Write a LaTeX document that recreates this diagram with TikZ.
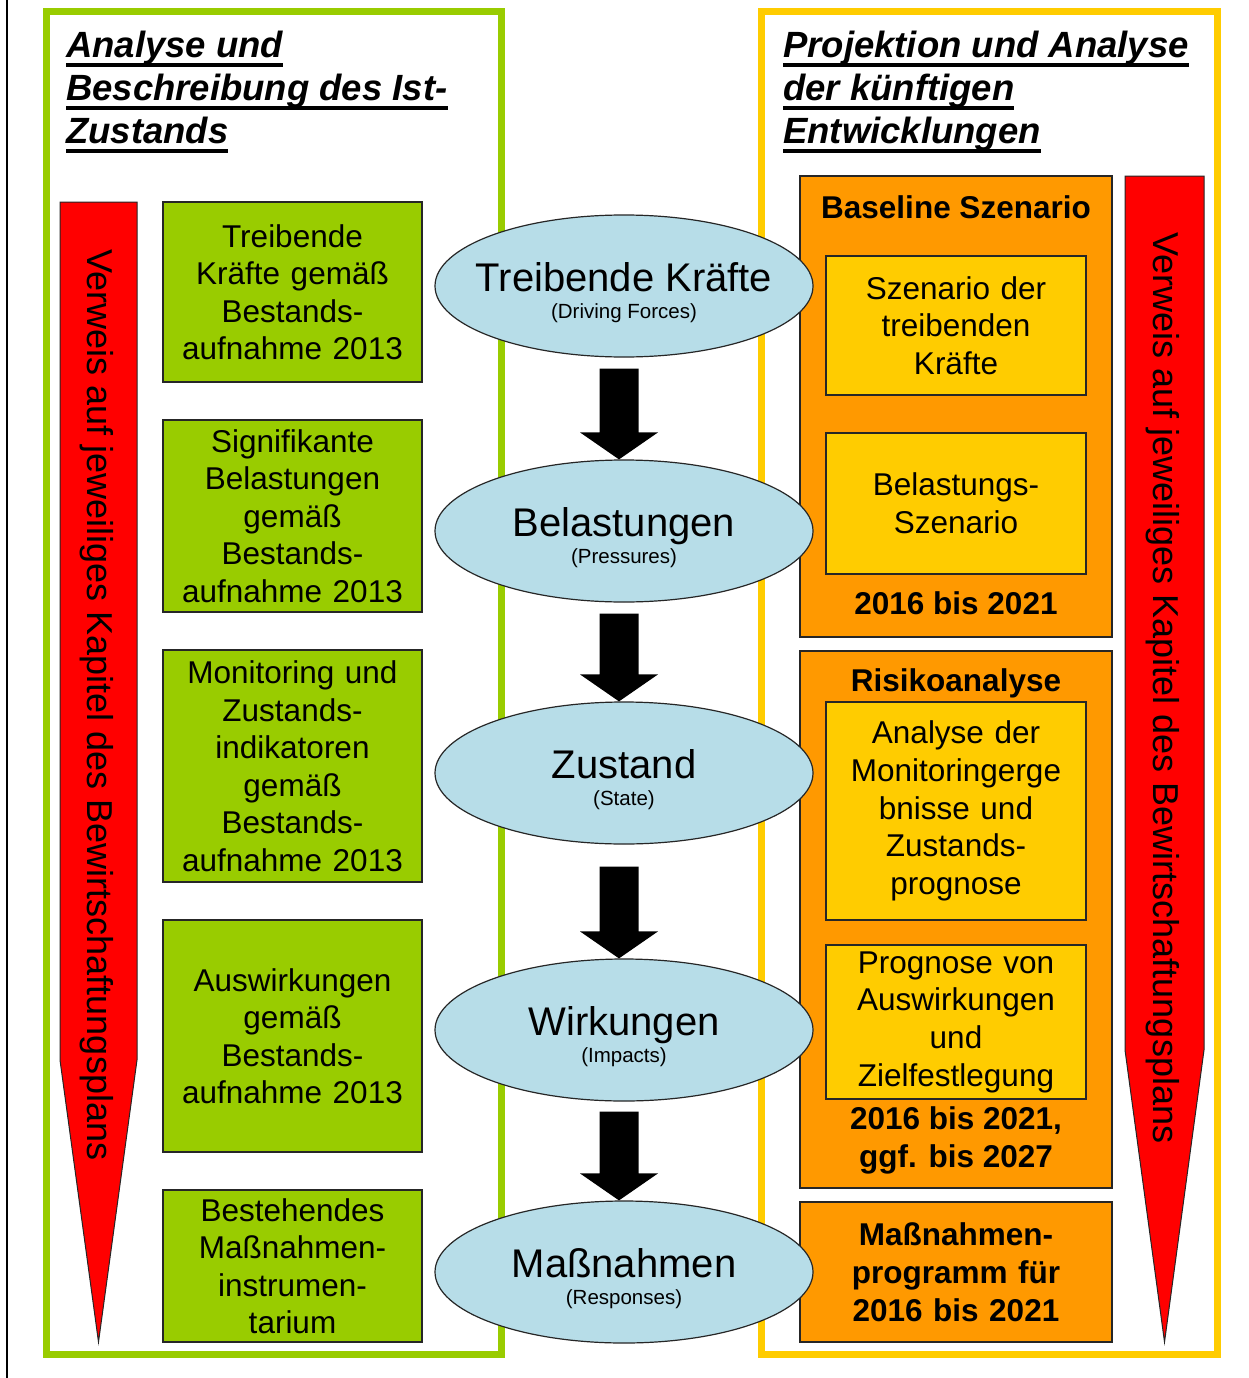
\documentclass[tikz,border=0pt]{standalone}
\usepackage{fontspec}
\setmainfont{Liberation Sans}
\usetikzlibrary{arrows.meta,shapes.geometric,calc}
\definecolor{fgreen}{HTML}{99CC00}
\definecolor{fyellow}{HTML}{FFCC00}
\definecolor{forange}{HTML}{FF9900}
\definecolor{fblue}{HTML}{B7DDE8}
\definecolor{fred}{HTML}{FF0000}
\definecolor{edge}{HTML}{262626}
\newcommand\myulline[1]{\leavevmode\setbox0=\hbox{#1}\rlap{\rule[-9pt]{\wd0}{4pt}}\box0}
\newcommand\dpsirarrow[3]{\fill[black] ($(#1.south)+(-24.5,#3)$) -- ($(#1.south)+(14.5,#3)$) -- ($(#2.north)+(14.5,-27)$) -- ($(#2.north)+(34,-27)$) -- ($(#2.north)+(-5,0)$) -- ($(#2.north)+(-44,-27)$) -- ($(#2.north)+(-24.5,-27)$) -- cycle;}
\begin{document}
\begin{tikzpicture}[x=1pt,y=-1pt,
 frame/.style={line width=7pt},
 greenbox/.style={draw=edge,line width=1.5pt,fill=fgreen,minimum width=259pt,text width=255pt,align=center,inner sep=0pt,font=\fontsize{31.5}{37.5}\selectfont},
 orangebox/.style={draw=edge,line width=1.5pt,fill=forange,minimum width=312pt,text width=308pt,align=center,inner sep=0pt,font=\fontsize{31.5}{38}\selectfont\bfseries},
 yellowbox/.style={draw=edge,line width=1.5pt,fill=fyellow,minimum width=260pt,text width=256pt,align=center,inner sep=0pt,font=\fontsize{31.5}{37.7}\selectfont},
 boldlabel/.style={font=\fontsize{31.5}{38}\selectfont\bfseries,align=center,inner sep=0pt},
 ell/.style={ellipse,draw=edge,line width=1.2pt,fill=fblue,minimum width=378pt,minimum height=142pt,inner sep=0pt},
 elltitle/.style={font=\fontsize{40}{40}\selectfont,inner sep=0pt,anchor=base},
 ellsub/.style={font=\fontsize{20.5}{20.5}\selectfont,inner sep=0pt,anchor=base},
 redarrow/.style={fill=fred,draw=edge,line width=1pt},
 redtext/.style={font=\fontsize{36}{36}\selectfont,rotate=-90,inner sep=0pt},
 titletext/.style={font=\fontsize{36.5}{43}\selectfont\bfseries\itshape,inner sep=0pt,anchor=base west}
]
\useasboundingbox (0,0) rectangle (1248,1378);
\fill[white] (0,0) rectangle (1248,1378);
\draw[line width=2pt] (7,0) -- (7,1378);

% frames
\draw[frame,draw=fgreen] (46,11.5) rectangle (501,1354);
\draw[frame,draw=fyellow] (761,11.5) rectangle (1217,1354);

% titles
\node[titletext] (tl) at (66,58) {\begin{tabular}[t]{@{}l@{}}\myulline{Analyse und}\\ \myulline{Beschreibung des Ist-}\\ \myulline{Zustands}\end{tabular}};
\node[titletext] (tr) at (783,58) {\begin{tabular}[t]{@{}l@{}}\myulline{Projektion und Analyse}\\ \myulline{der künftigen}\\ \myulline{Entwicklungen}\end{tabular}};

% red arrows
\draw[redarrow] (60,202) -- (137,202) -- (137,1060) -- (98.5,1342) -- (60,1060) -- cycle;
\node[redtext] (rl) at (97,705) {Verweis auf jeweiliges Kapitel des Bewirtschaftungsplans};
\draw[redarrow] (1125,176) -- (1204,176) -- (1204,1050) -- (1164.5,1342) -- (1125,1050) -- cycle;
\node[redtext] (rr) at (1163,688) {Verweis auf jeweiliges Kapitel des Bewirtschaftungsplans};

% green boxes
\node[greenbox,minimum height=180pt] (g1) at (292.5,292) {Treibende\\Kräfte gemäß\\Bestands-\\aufnahme 2013};
\node[greenbox,minimum height=192pt] (g2) at (292.5,516) {Signifikante\\Belastungen\\gemäß\\Bestands-\\aufnahme 2013};
\node[greenbox,minimum height=232pt] (g3) at (292.5,766) {Monitoring und\\Zustands-\\indikatoren\\gemäß\\Bestands-\\aufnahme 2013};
\node[greenbox,minimum height=232pt] (g4) at (292.5,1036) {Auswirkungen\\gemäß\\Bestands-\\aufnahme 2013};
\node[greenbox,minimum height=152pt] (g5) at (292.5,1266) {Bestehendes\\Maßnahmen-\\instrumen-\\tarium};

% orange boxes
\node[orangebox,minimum height=461pt] (oa) at (956,406.5) {};
\node[boldlabel,anchor=base] (oat) at (956,218) {Baseline Szenario};
\node[yellowbox,minimum height=139pt] (ya1) at (956,325.5) {Szenario der\\treibenden\\Kräfte};
\node[yellowbox,minimum height=141pt] (ya2) at (956,503.5) {Belastungs-\\Szenario};
\node[boldlabel,anchor=base] (oab) at (956,614.5) {2016 bis 2021};

\node[orangebox,minimum height=537pt] (ob) at (956,919.5) {};
\node[boldlabel,anchor=base] (obt) at (956,691.5) {Risikoanalyse};
\node[yellowbox,minimum height=218pt] (yb1) at (956,811) {Analyse der\\Monitoringerge\\bnisse und\\Zustands-\\prognose};
\node[yellowbox,minimum height=154pt] (yb2) at (956,1022) {Prognose von\\Auswirkungen\\und\\Zielfestlegung};
\node[boldlabel] (obb) at (956,1140) {2016 bis 2021,\\ggf. bis 2027};

\node[orangebox,minimum height=140pt] (oc) at (956,1272) {Maßnahmen-\\programm für\\2016 bis 2021};

% ellipses
\node[ell] (e1) at (624,286) {};
\node[elltitle] (e1t) at ([yshift=-5.5pt]e1.center) {Treibende Kräfte};
\node[ellsub] (e1s) at ([yshift=-32pt]e1.center) {(Driving Forces)};
\node[ell] (e2) at (624,531) {};
\node[elltitle] (e2t) at ([yshift=-5.5pt]e2.center) {Belastungen};
\node[ellsub] (e2s) at ([yshift=-32pt]e2.center) {(Pressures)};
\node[ell] (e3) at (624,773) {};
\node[elltitle] (e3t) at ([yshift=-5.5pt]e3.center) {Zustand};
\node[ellsub] (e3s) at ([yshift=-32pt]e3.center) {(State)};
\node[ell] (e4) at (624,1030) {};
\node[elltitle] (e4t) at ([yshift=-5.5pt]e4.center) {Wirkungen};
\node[ellsub] (e4s) at ([yshift=-32pt]e4.center) {(Impacts)};
\node[ell] (e5) at (624,1272) {};
\node[elltitle] (e5t) at ([yshift=-5.5pt]e5.center) {Maßnahmen};
\node[ellsub] (e5s) at ([yshift=-32pt]e5.center) {(Responses)};

% block arrows
\dpsirarrow{e1}{e2}{11}
\dpsirarrow{e2}{e3}{11}
\dpsirarrow{e3}{e4}{22}
\dpsirarrow{e4}{e5}{10}
\end{tikzpicture}
\end{document}
